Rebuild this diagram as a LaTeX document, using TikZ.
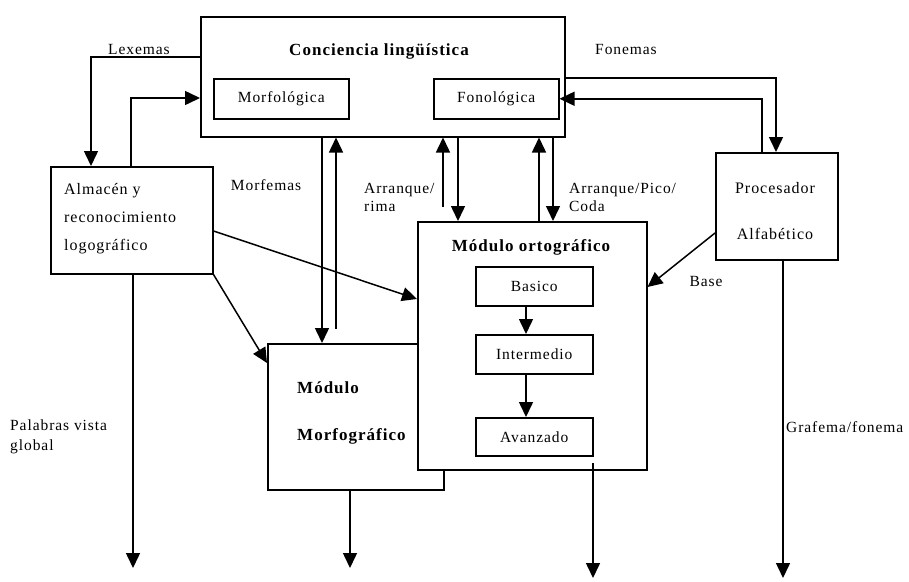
\documentclass[tikz,border=0pt]{standalone}
\usepackage{fontspec}
\setmainfont{Liberation Serif}[LetterSpace=6]
\usetikzlibrary{arrows.meta}
\begin{document}
\begin{tikzpicture}[x=1pt,y=-1pt,
  box/.style={draw,line width=1.5pt,inner sep=0pt,anchor=north west,fill=white,font=\fontsize{15.5}{18}\selectfont},
  lbl/.style={inner sep=0pt,font=\fontsize{15.5}{18}\selectfont},
  ttl/.style={inner sep=0pt,font=\fontsize{17}{18}\selectfont\bfseries},
  ln/.style={line width=1.5pt},
  arr/.style={ln,-{Triangle[length=15pt,width=14pt]}},
]
\useasboundingbox (0,0) rectangle (909,581);
% boxes
\node[box,minimum width=364pt,minimum height=120pt] (conc) at (200,16) {};
\node[ttl] (conct) at (379,51) {Conciencia lingüística};
\node[box,minimum width=135pt,minimum height=40pt] (morfo) at (213,78) {Morfológica};
\node[box,minimum width=125pt,minimum height=40pt] (fono) at (433,78) {Fonológica};
\node[box,minimum width=162pt,minimum height=107pt] (alm) at (50,166) {};
\node[lbl,align=left,anchor=west,font=\fontsize{16}{28}\selectfont] (almt) at (64,219) {Almacén y\\reconocimiento\\logográfico};
\node[box,minimum width=122pt,minimum height=107pt] (proc) at (715,152) {};
\node[lbl,align=center,font=\fontsize{16}{46}\selectfont] (proct) at (775,211) {Procesador\\Alfabético};
\node[box,minimum width=176pt,minimum height=146pt] (morfg) at (267,343) {};
\node[ttl,align=left,anchor=west,font=\fontsize{17}{47}\selectfont\bfseries] (morfgt) at (297,413) {Módulo\\Morfográfico};
\node[box,minimum width=229pt,minimum height=248pt] (orto) at (417,221) {};
\node[ttl] (ortot) at (531,247) {Módulo ortográfico};
\node[box,minimum width=117pt,minimum height=39pt] (bas) at (475,266) {Basico};
\node[box,minimum width=117pt,minimum height=39pt] (inter) at (475,334) {Intermedio};
\node[box,minimum width=117pt,minimum height=38pt] (avz) at (475,417) {Avanzado};
% labels
\node[lbl] (lex) at (139,49) {Lexemas};
\node[lbl] (fon) at (626,49) {Fonemas};
\node[lbl] (mfe) at (266,185) {Morfemas};
\node[lbl,align=left,anchor=west,font=\fontsize{15.5}{18}\selectfont] (arr1) at (364,197) {Arranque/\\rima};
\node[lbl,align=left,anchor=west,font=\fontsize{15.5}{18}\selectfont] (arr2) at (569,197) {Arranque/Pico/\\Coda};
\node[lbl] (base) at (706,281) {Base};
\node[lbl,align=left,anchor=west,font=\fontsize{15.5}{20}\selectfont] (pal) at (10,437) {Palabras vista\\global};
\node[lbl,anchor=west] (graf) at (786,427) {Grafema/fonema};
% free ends
\coordinate (e1) at (133,568);
\coordinate (e2) at (350,568);
\coordinate (e3) at (593,578);
\coordinate (e4) at (783,578);
\coordinate (s1) at (336,329);
\coordinate (s2) at (443,207);
\coordinate (s3) at (593,463);
% connectors
\draw[arr] (conc.west |- 0,57) -| (alm.north -| 91,0);
\draw[arr] (alm.north -| 131,0) |- (conc.west |- 0,98);
\draw[arr] (conc.south -| 322,0) -- (morfg.north -| 322,0);
\draw[arr] (s1) -- (conc.south -| s1);
\draw[arr] (s2) -- (conc.south -| s2);
\draw[arr] (conc.south -| 458,0) -- (orto.north -| 458,0);
\draw[arr] (orto.north -| 539,0) -- (conc.south -| 539,0);
\draw[arr] (conc.south -| 553,0) -- (orto.north -| 553,0);
\draw[arr] (conc.east |- 0,78) -| (proc.north -| 776,0);
\draw[arr] (proc.north -| 762,0) |- (fono.east);
\draw[arr] (proc.west |- 0,233) -- (orto.east |- 0,287);
\draw[arr] (alm.east |- 0,231) -- (orto.west |- 0,299);
\draw[arr] (alm.south east) -- (morfg.west |- 0,363);
\draw[arr] (alm.south -| e1) -- (e1);
\draw[arr] (morfg.south -| e2) -- (e2);
\draw[arr] (s3) -- (e3);
\draw[arr] (proc.south -| e4) -- (e4);
\draw[arr] (bas.south -| 526,0) -- (inter.north -| 526,0);
\draw[arr] (inter.south -| 526,0) -- (avz.north -| 526,0);
\end{tikzpicture}
\end{document}
